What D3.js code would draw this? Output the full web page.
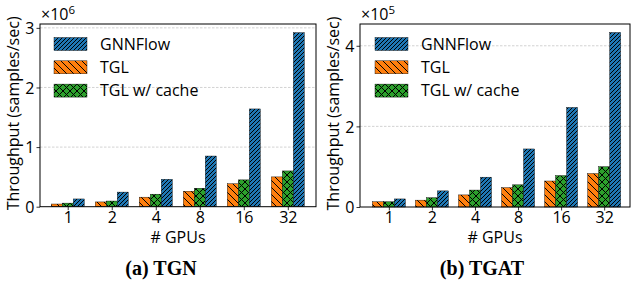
<!DOCTYPE html>
<html><head><meta charset="utf-8">
<script src="https://cdn.jsdelivr.net/npm/d3@7"></script>
<style>body{margin:0;background:#fff}svg{display:block}</style>
</head><body>
<svg id="c" width="635" height="290"></svg>
<script>
const categories = ["1","2","4","8","16","32"];
const seriesNames = ["TGL","TGL w/ cache","GNNFlow"];
const legendOrder = ["GNNFlow","TGL","TGL w/ cache"];
// TGN panel (x 1e6)
const tgnTGL      = [0.045,0.08,0.16,0.26,0.385,0.50];
const tgnTGLCache = [0.06,0.095,0.21,0.31,0.45,0.60];
const tgnGNNFlow  = [0.13,0.245,0.46,0.85,1.64,2.92];
const tgnTicks = [0,1,2,3];
// TGAT panel (x 1e5)
const tgatTGL      = [0.13,0.17,0.30,0.48,0.645,0.83];
const tgatTGLCache = [0.13,0.23,0.42,0.55,0.78,1.00];
const tgatGNNFlow  = [0.20,0.40,0.74,1.44,2.47,4.33];
const tgatTicks = [0,2,4];

const svg = d3.select("#c");
const font = "Open Sans";
const fs = 16;
const colors = {"GNNFlow":"#1f77b4","TGL":"#ff7f0e","TGL w/ cache":"#2ca02c"};
const hatchIds = {"GNNFlow":"hBlue","TGL":"hOrange","TGL w/ cache":"hGreen"};

const defs = svg.append("defs");
function pat(id, color, size, paths){
  const p = defs.append("pattern").attr("id",id).attr("patternUnits","userSpaceOnUse")
    .attr("width",size).attr("height",size);
  p.append("rect").attr("width",size).attr("height",size).attr("fill",color);
  paths.forEach(d=>p.append("path").attr("d",d).attr("stroke","#000").attr("stroke-width",1).attr("fill","none"));
}
pat("hBlue", colors["GNNFlow"], 4, ["M-1,1 L1,-1","M0,4 L4,0","M3,5 L5,3"]);
pat("hOrange", colors["TGL"], 7, ["M-1,-1 L8,8","M-1,6 L1,8","M6,-1 L8,1"]);
pat("hGreen", colors["TGL w/ cache"], 7, ["M-1,-1 L8,8","M-1,8 L8,-1"]);

function panel(opt){
  const {x0,x1,y0,y1,ymax,ticks,data,exp,title,legX,ylabX} = opt;
  const g = svg.append("g");
  const x = d3.scaleLinear().domain(opt.xdom).range([x0,x1]);
  const y = d3.scaleLinear().domain([0,ymax]).range([y1,y0]);
  g.selectAll(".grid").data(ticks.filter(t=>t>0)).join("line")
    .attr("x1",x0).attr("x2",x1).attr("y1",d=>y(d)).attr("y2",d=>y(d))
    .attr("stroke","#c8c8c8").attr("stroke-width",0.8).attr("stroke-dasharray","2.5,1.5");
  const bw = 11;
  const offs = [-1,0,1];
  seriesNames.forEach((s,si)=>{
    g.selectAll(".b"+si).data(data[s]).join("rect")
      .attr("x",(d,i)=>x(i)+offs[si]*bw - bw/2)
      .attr("width",bw)
      .attr("y",d=>y(d)).attr("height",d=>y1-y(d))
      .attr("fill","url(#"+hatchIds[s]+")")
      .attr("stroke","#000").attr("stroke-width",0.4);
  });
  const ya = d3.axisLeft(y).tickValues(ticks).tickSize(3.5).tickPadding(2).tickFormat(d3.format("d"));
  const ag = g.append("g").attr("transform",`translate(${x0},0)`).call(ya);
  const xa = d3.axisBottom(x).tickValues(d3.range(categories.length)).tickSize(3.5).tickPadding(1).tickFormat(i=>categories[i]);
  const bg = g.append("g").attr("transform",`translate(0,${y1})`).call(xa);
  [ag,bg].forEach(a=>{a.select(".domain").remove();
    a.selectAll("text").attr("font-family",font).attr("font-size",fs).attr("fill","#000");
    a.selectAll("line").attr("stroke","#000").attr("stroke-width",0.8);});
  ag.selectAll("text").attr("dy","0.36em");
  g.append("rect").attr("x",x0).attr("y",y0).attr("width",x1-x0).attr("height",y1-y0)
    .attr("fill","none").attr("stroke","#000").attr("stroke-width",1);
  const mt = g.append("text").attr("x",x0+1).attr("y",y0-4).attr("font-family",font).attr("font-size",fs);
  mt.append("tspan").text("×10");
  mt.append("tspan").text(exp).attr("font-size",11.5).attr("dy",-6);
  g.append("text").attr("x",(x0+x1)/2).attr("y",y1+36).attr("text-anchor","middle")
    .attr("font-family",font).attr("font-size",fs).text("# GPUs");
  g.append("text").attr("transform",`translate(${ylabX},${(y0+y1)/2-2}) rotate(-90)`).attr("text-anchor","middle")
    .attr("font-family",font).attr("font-size",fs).text("Throughput (samples/sec)");
  g.append("text").attr("x",opt.titleX).attr("y",275).attr("text-anchor","middle")
    .attr("font-family","Liberation Serif").attr("font-weight","bold").attr("font-size",20).text(title);
  legendOrder.forEach((s,i)=>{
    const ly = 44 + i*23.3;
    g.append("rect").attr("x",legX).attr("y",ly-6.5).attr("width",33).attr("height",13)
      .attr("fill","url(#"+hatchIds[s]+")").attr("stroke","#000").attr("stroke-width",0.4);
    g.append("text").attr("x",legX+46).attr("y",ly+5.5).attr("font-family",font).attr("font-size",fs).text(s);
  });
}

panel({x0:40,x1:316,y0:24,y1:206.7,ymax:3.065,ticks:tgnTicks,xdom:[-0.63,5.64],
  data:{"TGL":tgnTGL,"TGL w/ cache":tgnTGLCache,"GNNFlow":tgnGNNFlow},exp:"6",
  title:"(a) TGN",titleX:161,legX:54,ylabX:19});
panel({x0:360,x1:630,y0:24,y1:207,ymax:4.54,ticks:tgatTicks,xdom:[-0.67,5.6],
  data:{"TGL":tgatTGL,"TGL w/ cache":tgatTGLCache,"GNNFlow":tgatGNNFlow},exp:"5",
  title:"(b) TGAT",titleX:482,legX:375,ylabX:339});
</script>
</body></html>
